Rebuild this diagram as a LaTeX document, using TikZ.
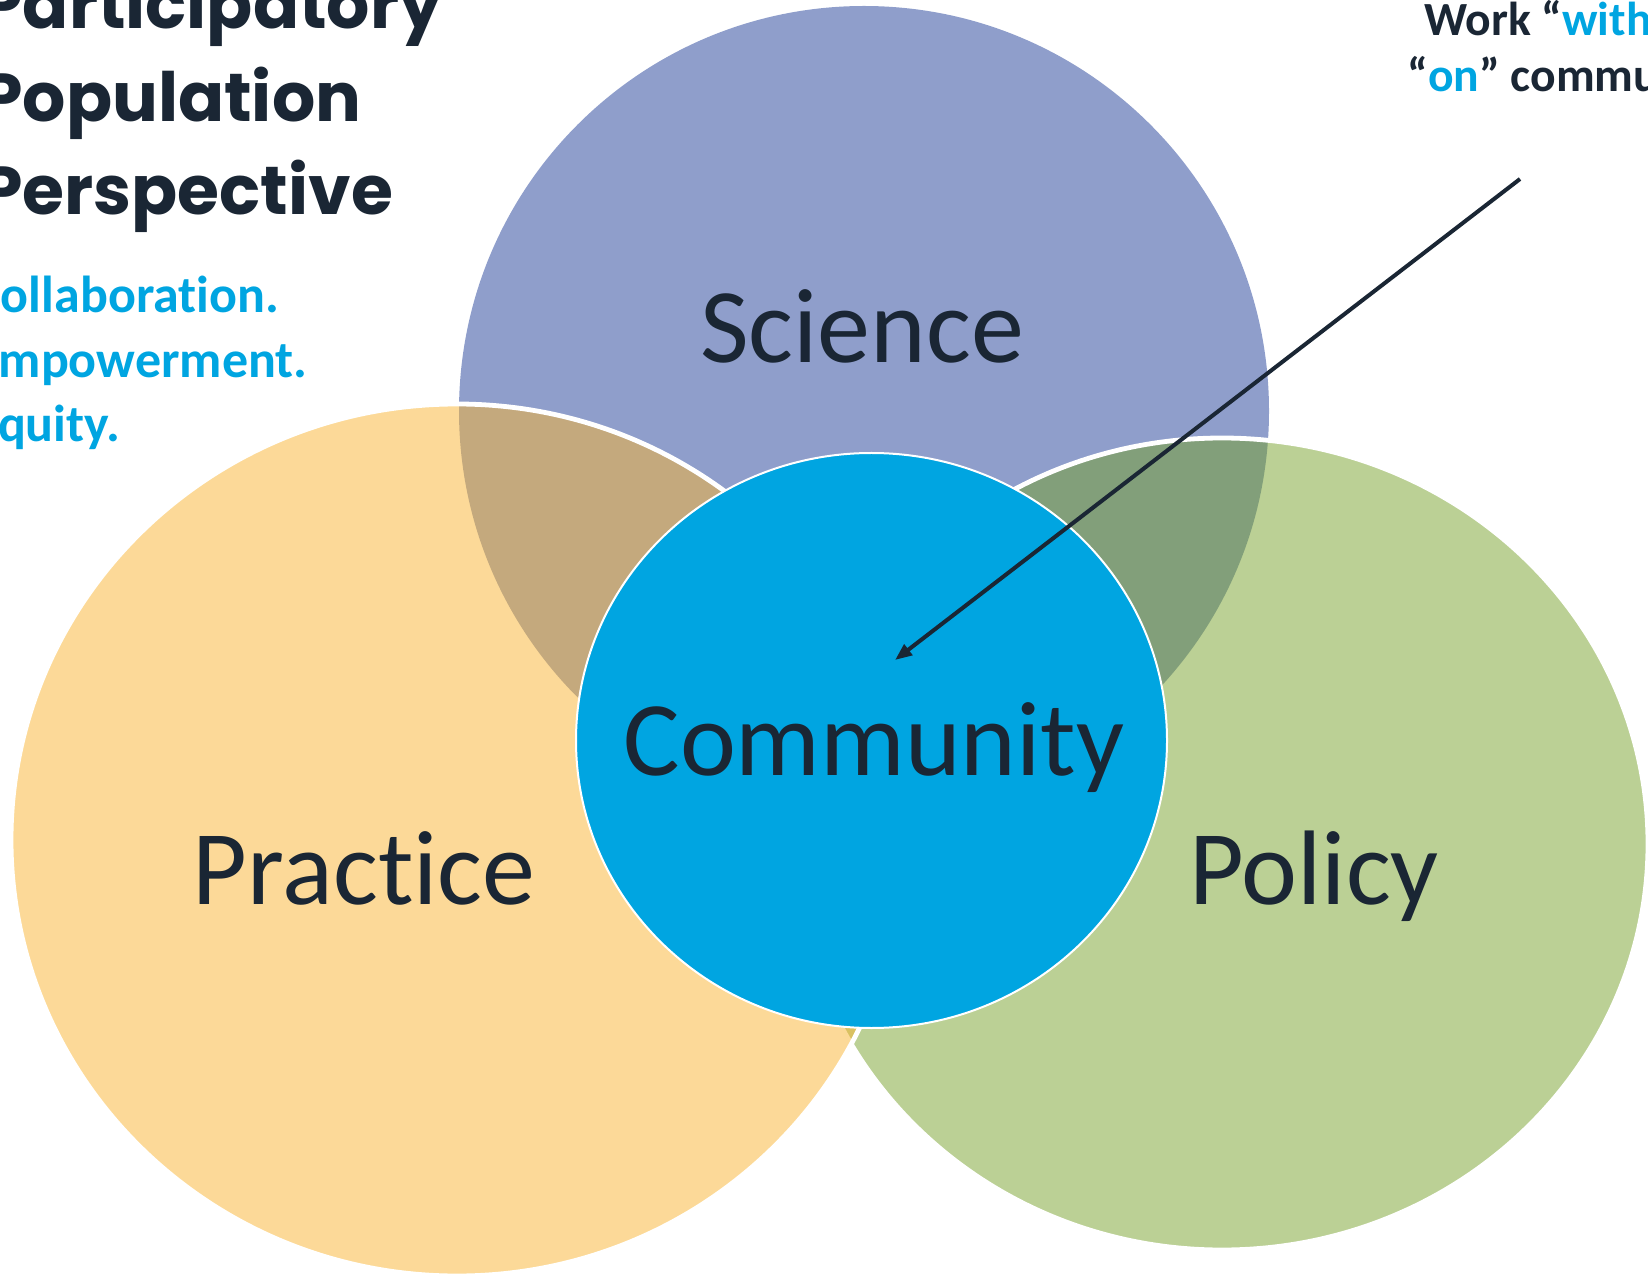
\documentclass[tikz,border=0pt]{standalone}
\usepackage{fontspec}
\setmainfont{Carlito}[Ligatures=NoCommon]
\newfontfamily\headfont{Poppins}[Ligatures=NoCommon]
\usepackage{xcolor}
\usetikzlibrary{arrows.meta}
\definecolor{navy}{RGB}{26,38,52}
\definecolor{sky}{RGB}{0,165,225}
\definecolor{sciblue}{RGB}{143,158,203}
\definecolor{pracgold}{RGB}{249,180,49}
\definecolor{polgreen}{RGB}{119,161,43}

\begin{document}
\begin{tikzpicture}[x=0.5pt,y=-0.5pt,every node/.style={inner sep=0pt,text=navy},
  field/.style={fill opacity=.5,draw=white,line width=2.4pt},
  fieldname/.style={anchor=base,font=\fontsize{53}{60}\selectfont},
  heading/.style={anchor=base west,font=\headfont\bfseries\fontsize{34}{40}\selectfont},
  value/.style={anchor=base west,text=sky,font=\bfseries\fontsize{26}{30}\selectfont},
  remark/.style={anchor=base west,font=\bfseries\fontsize{23.8}{26}\selectfont}]
 \useasboundingbox (0,0) rectangle (1648,1277);
 \clip (0,0) rectangle (1648,1277);
 % the three fields
 \fill[sciblue] (864,411) ellipse [x radius=202.5pt,y radius=202.5pt];
 \filldraw[field,fill=polgreen] (1222,844) ellipse [x radius=213pt,y radius=203pt];
 \filldraw[field,fill=pracgold] (457,840) ellipse [x radius=223pt,y radius=218pt];
 \filldraw[fill=sky,draw=white,line width=1pt] (871.5,740.5) ellipse [x radius=147.75pt,y radius=143.75pt];
 \node[fieldname] (science) at (862,363) {Science};
 \node[fieldname] (practice) at (364,904) {Practice};
 \node[fieldname] (policy) at (1314,904) {Policy};
 \node[fieldname] (community) at (874,775) {Community};
 % title and values
 \foreach \w [count=\i] in {Participatory,Population,Perspective}
  \node[heading] (title\i) at (-20,{29+93*(\i-1)}) {\w};
 \foreach \w [count=\i] in {Collaboration.,Empowerment.,Equity.}
  \node[value] (value\i) at (-27,{313+64.5*(\i-1)}) {\w};
 \node[remark] (remark1) at (1424,36) {Work “\textcolor{sky}{with}” not};
 \node[remark] (remark2) at (1407,92) {“\textcolor{sky}{on}” communities};
 \coordinate (tail) at (1520,179);
 \coordinate (tip) at (895,660);
 \draw[navy,line width=2pt,-{Triangle[length=8.5pt,width=6.5pt]}] (tail) -- (tip);
\end{tikzpicture}
\end{document}
